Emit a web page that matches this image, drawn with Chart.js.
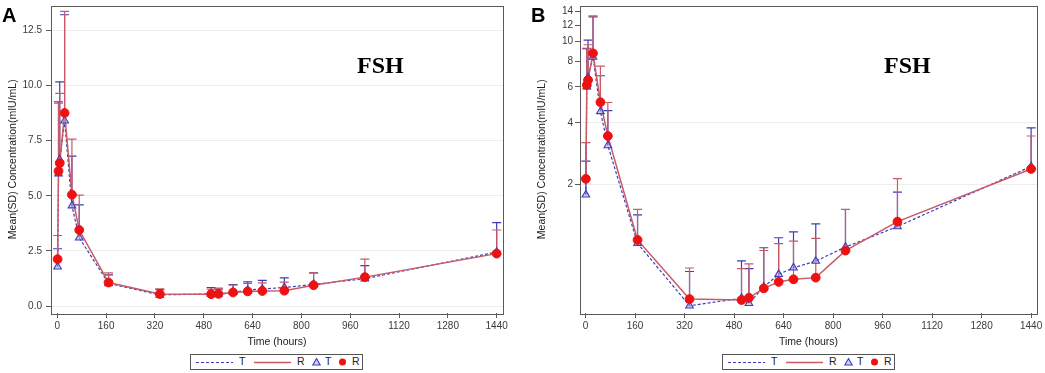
<!DOCTYPE html>
<html>
<head>
<meta charset="utf-8">
<script src="https://cdn.jsdelivr.net/npm/chart.js@4.4.1/dist/chart.umd.min.js"></script>
<style>
  html, body { margin:0; padding:0; background:#fff; }
  body { width:1045px; height:373px; position:relative; overflow:hidden; font-family:'Liberation Sans', Arial, sans-serif; }
  .wrap { position:absolute; top:0; }
  .panel-letter { position:absolute; font:bold 20px 'Liberation Sans', Arial, sans-serif; color:#000; line-height:1; }
  .fsh { position:absolute; font:bold 24px 'Liberation Serif', 'Times New Roman', serif; color:#000; line-height:1; }
  .legend { position:absolute; top:354px; width:171px; height:14px; border:1px solid #555; background:#fff; }
  .legend span.t { position:absolute; top:0px; font:10.5px 'Liberation Sans', Arial, sans-serif; color:#222; }
  .legend svg { position:absolute; top:0; left:0; }
</style>
</head>
<body>
<div class="wrap" style="left:0;width:520px;height:349px;"><canvas id="cA" width="520" height="349"></canvas></div>
<div class="wrap" style="left:520px;width:525px;height:349px;"><canvas id="cB" width="525" height="349"></canvas></div>
<div class="panel-letter" style="left:2px;top:5px;">A</div>
<div class="panel-letter" style="left:531px;top:5px;">B</div>
<div class="fsh" style="left:357px;top:53px;">FSH</div>
<div class="fsh" style="left:884px;top:53px;">FSH</div>
<div id="legA" class="legend" style="left:190px;"></div>
<div id="legB" class="legend" style="left:722px;"></div>
<script>
// ---- data ----
const times  = [1, 4, 8, 24, 48, 72, 168, 336, 504, 528, 576, 624, 672, 744, 840, 1008, 1440];
const tMean  = [1.78, 6.00, 6.64, 8.40, 4.55, 3.10, 1.03, 0.51, 0.555, 0.524, 0.63, 0.727, 0.782, 0.843, 0.988, 1.244, 2.45];
const tSD    = [0.82, 3.26, 3.52, 4.80, 2.25, 1.49, 0.39, 0.24, 0.29, 0.25, 0.35, 0.37, 0.39, 0.44, 0.52, 0.59, 1.33];
const rMean  = [2.13, 6.12, 6.48, 8.75, 5.05, 3.45, 1.07, 0.55, 0.544, 0.558, 0.62, 0.667, 0.687, 0.70, 0.949, 1.315, 2.38];
const rSD    = [1.07, 3.08, 3.16, 4.60, 2.52, 1.58, 0.44, 0.23, 0.23, 0.26, 0.33, 0.36, 0.37, 0.39, 0.56, 0.82, 1.07];
const xTicks = [0, 160, 320, 480, 640, 800, 960, 1120, 1280, 1440];
const yTicksLinear = [0, 2.5, 5, 7.5, 10, 12.5];
const yTicksLog = [2, 4, 6, 8, 10, 12, 14];
const logGridValues = [2, 4];
const xTitle = 'Time (hours)';
const yTitle = 'Mean(SD) Concentration(mIU/mL)';
const seriesNames = ['T', 'R'];

// ---- styles ----
const BLUE = '#3d3db8';
const BLUE_FILL = 'rgba(170,170,235,0.55)';
const RLINE = '#c95a66';
const RMARK = '#ee1111';
const AXIS = '#5a5a5a';
const TICKFONT = { family: "'Liberation Sans', Arial, sans-serif", size: 10 };
const TITLEFONT = { family: "'Liberation Sans', Arial, sans-serif", size: 10.5 };

const pts = (means) => times.map((t, i) => ({ x: t, y: means[i] }));

const errorBars = {
  id: 'errorBars',
  beforeDatasetsDraw(chart) {
    const { ctx, scales: { x, y } } = chart;
    ctx.save();
    const draw = (means, sds, color) => {
      ctx.strokeStyle = color;
      ctx.lineWidth = 1.2;
      times.forEach((t, i) => {
        const px = x.getPixelForValue(t);
        const p0 = y.getPixelForValue(means[i]);
        const p1 = y.getPixelForValue(means[i] + sds[i]);
        ctx.beginPath();
        ctx.moveTo(px, p0); ctx.lineTo(px, p1);
        ctx.moveTo(px - 4.5, p1); ctx.lineTo(px + 4.5, p1);
        ctx.stroke();
      });
    };
    draw(tMean, tSD, BLUE);
    draw(rMean, rSD, RLINE);
    ctx.restore();
  }
};

const frame = {
  id: 'frame',
  afterDraw(chart) {
    const { ctx, chartArea: a } = chart;
    ctx.save();
    ctx.strokeStyle = AXIS;
    ctx.lineWidth = 1;
    ctx.strokeRect(Math.round(a.left) + 0.5, Math.round(a.top) + 0.5, Math.round(a.right - a.left), Math.round(a.bottom - a.top));
    ctx.restore();
  }
};

function makeChart(id, cfg) {
  const isLog = cfg.log;
  return new Chart(document.getElementById(id), {
    type: 'scatter',
    data: {
      datasets: [
        { label: seriesNames[1], data: pts(rMean), showLine: false, pointStyle: 'circle', pointRadius: 4.4,
          backgroundColor: RMARK, borderColor: RMARK, borderWidth: 1, order: 0 },
        { label: seriesNames[0], data: pts(tMean), showLine: false, pointStyle: 'triangle', pointRadius: 4.4,
          backgroundColor: BLUE_FILL, borderColor: BLUE, borderWidth: 1.1, order: 1 },
        { label: seriesNames[1], data: pts(rMean), showLine: true, pointRadius: 0, borderColor: RLINE,
          borderWidth: 1.5, tension: 0, order: 2 },
        { label: seriesNames[0], data: pts(tMean), showLine: true, pointRadius: 0, borderColor: BLUE,
          borderWidth: 1.2, borderDash: [3, 2], tension: 0, order: 3 }
      ]
    },
    options: {
      responsive: false,
      animation: false,
      devicePixelRatio: 1,
      layout: { padding: { left: 0, top: 3, right: cfg.padRight, bottom: 0 } },
      plugins: { legend: { display: false }, tooltip: { enabled: false } },
      scales: {
        x: {
          type: 'linear', min: cfg.xMin, max: cfg.xMax,
          border: { display: false },
          grid: { drawOnChartArea: false, drawTicks: true, tickLength: 5, tickColor: AXIS },
          ticks: { font: TICKFONT, color: '#3a3a3a', padding: 2, maxRotation: 0, autoSkip: false,
                   callback: (v) => String(v) },
          title: { display: true, text: xTitle, font: TITLEFONT, color: '#222', padding: { top: 0, bottom: 1 } },
          afterBuildTicks: (s) => { s.ticks = xTicks.map(v => ({ value: v })); },
          afterFit: (s) => { s.height = 36; s.paddingLeft = 0; s.paddingRight = 0; }
        },
        y: {
          type: isLog ? 'logarithmic' : 'linear', min: cfg.yMin, max: cfg.yMax,
          border: { display: false },
          grid: {
            drawTicks: true, tickLength: 5, tickColor: AXIS,
            color: (c) => {
              if (!c.tick) return 'rgba(0,0,0,0)';
              if (isLog) return logGridValues.includes(c.tick.value) ? '#ececec' : 'rgba(0,0,0,0)';
              return '#ececec';
            }
          },
          ticks: { font: TICKFONT, color: '#3a3a3a', padding: cfg.yTickPad, autoSkip: false,
                   callback: (v) => isLog ? String(v) : v.toFixed(1) },
          title: { display: true, text: yTitle, font: TITLEFONT, color: '#222', padding: { top: cfg.yTitlePad, bottom: 0 } },
          afterBuildTicks: (s) => { s.ticks = (isLog ? yTicksLog : yTicksLinear).map(v => ({ value: v })); },
          afterFit: (s) => { s.width = cfg.yWidth; s.paddingTop = 0; s.paddingBottom = 0; }
        }
      }
    },
    plugins: [errorBars, frame]
  });
}

makeChart('cA', { log: false, xMin: -20.6, xMax: 1460.7, yMin: -0.31, yMax: 13.62, yWidth: 51, padRight: 17, yTickPad: 4, yTitlePad: 6.5 });
makeChart('cB', { log: true, xMin: -18, xMax: 1459, yMin: 0.47, yMax: 15, yWidth: 60, padRight: 8, yTickPad: 2, yTitlePad: 15.5 });

function makeLegend(id) {
  const el = document.getElementById(id);
  el.innerHTML =
    '<svg width="171" height="14">' +
      '<line x1="5" y1="7.5" x2="42" y2="7.5" stroke="' + BLUE + '" stroke-width="1.2" stroke-dasharray="3,2"/>' +
      '<line x1="63" y1="7.5" x2="100" y2="7.5" stroke="' + RLINE + '" stroke-width="1.5"/>' +
      '<polygon points="125.5,3.5 129.2,10 121.8,10" fill="' + BLUE_FILL + '" stroke="' + BLUE + '" stroke-width="1.1"/>' +
      '<circle cx="151.5" cy="7" r="3.5" fill="' + RMARK + '"/>' +
    '</svg>' +
    '<span class="t" style="left:48px">' + seriesNames[0] + '</span>' +
    '<span class="t" style="left:106px">' + seriesNames[1] + '</span>' +
    '<span class="t" style="left:134px">' + seriesNames[0] + '</span>' +
    '<span class="t" style="left:161px">' + seriesNames[1] + '</span>';
}
makeLegend('legA');
makeLegend('legB');
</script>
</body>
</html>
